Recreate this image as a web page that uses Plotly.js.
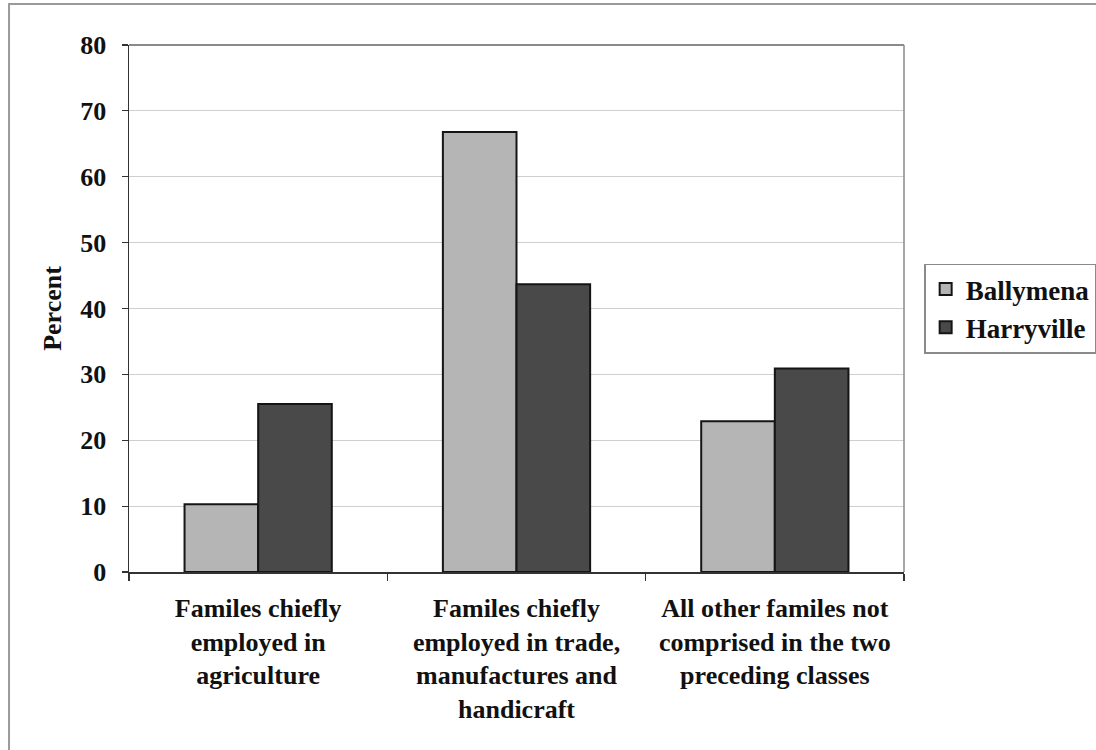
<!DOCTYPE html>
<html>
<head>
<meta charset="utf-8">
<script src="https://cdn.plot.ly/plotly-3.0.1.min.js"></script>
<style>
  html, body { margin: 0; padding: 0; background: #fff; }
  #chart { width: 1096px; height: 750px; }
</style>
</head>
<body>
<div id="chart"></div>
<script>
// Family occupation classes, one label line per entry
const categories = [
  ["Familes chiefly", "employed in", "agriculture"],
  ["Familes chiefly", "employed in trade,", "manufactures and", "handicraft"],
  ["All other familes not", "comprised in the two", "preceding classes"]
];
const seriesNames = ["Ballymena", "Harryville"];
const ballymena = [10.3, 66.8, 22.9];
const harryville = [25.5, 43.7, 30.9];
const yTicks = [0, 10, 20, 30, 40, 50, 60, 70, 80];

const catKeys = categories.map(c => c.join(" "));
const catText = categories.map(c => c.join("<br>"));

const FONT = "Liberation Serif";

const traces = [
  {
    type: "bar", name: seriesNames[0], x: catKeys, y: ballymena,
    marker: { color: "#b5b5b5", line: { color: "#151515", width: 2 } }
  },
  {
    type: "bar", name: seriesNames[1], x: catKeys, y: harryville,
    marker: { color: "#494949", line: { color: "#151515", width: 2 } }
  }
];

const layout = {
  width: 1096, height: 750,
  margin: { l: 129, r: 192, t: 45, b: 178, autoexpand: false },
  paper_bgcolor: "#fff", plot_bgcolor: "#fff",
  font: { family: FONT, size: 26, color: "#111" },
  barmode: "group", bargap: 0.43, bargroupgap: 0,
  showlegend: true,
  legend: {
    x: 1.026, xanchor: "left", y: 0.5, yanchor: "middle",
    bgcolor: "#fff", bordercolor: "#8a8a8a", borderwidth: 1.5,
    font: { family: FONT, size: 27, color: "#111", weight: 700 },
    tracegroupgap: 0
  },
  xaxis: {
    type: "category",
    tickmode: "array", tickvals: catKeys, ticktext: catText,
    tickson: "boundaries", ticks: "outside", ticklen: 7, tickcolor: "#333", tickwidth: 1.2,
    showline: true, linecolor: "#333", linewidth: 1.5,
    showgrid: false, zeroline: false,
    tickfont: { family: FONT, size: 26, color: "#111", weight: 700 },
    ticklabelstandoff: 12
  },
  yaxis: {
    range: [0, 80], tickmode: "array", tickvals: yTicks,
    ticks: "outside", ticklen: 6, tickcolor: "#333", tickwidth: 1.2,
    showline: true, linecolor: "#333", linewidth: 1.5,
    showgrid: true, gridcolor: "#cfcfcf", gridwidth: 1,
    zeroline: false,
    tickfont: { family: FONT, size: 26, color: "#111", weight: 700 },
    ticklabelstandoff: 10,
    title: { text: "Percent", font: { family: FONT, size: 26, color: "#111", weight: 700 }, standoff: 11 }
  },
  shapes: [
    // plot area frame: top and right edges
    { type: "line", xref: "paper", yref: "paper", x0: 0, x1: 1, y0: 1, y1: 1,
      line: { color: "#8a8a8a", width: 2 } },
    { type: "line", xref: "paper", yref: "paper", x0: 1, x1: 1, y0: 0, y1: 1,
      line: { color: "#8a8a8a", width: 1.5 } },
    // outer chart border
    { type: "rect", xref: "paper", yref: "paper", x0: -0.1548, x1: 1.4, y0: -0.4, y1: 1.078,
      line: { color: "#9a9a9a", width: 2 }, fillcolor: "rgba(0,0,0,0)", layer: "below" }
  ]
};

Plotly.newPlot("chart", traces, layout, { displayModeBar: false, staticPlot: true });
</script>
</body>
</html>
